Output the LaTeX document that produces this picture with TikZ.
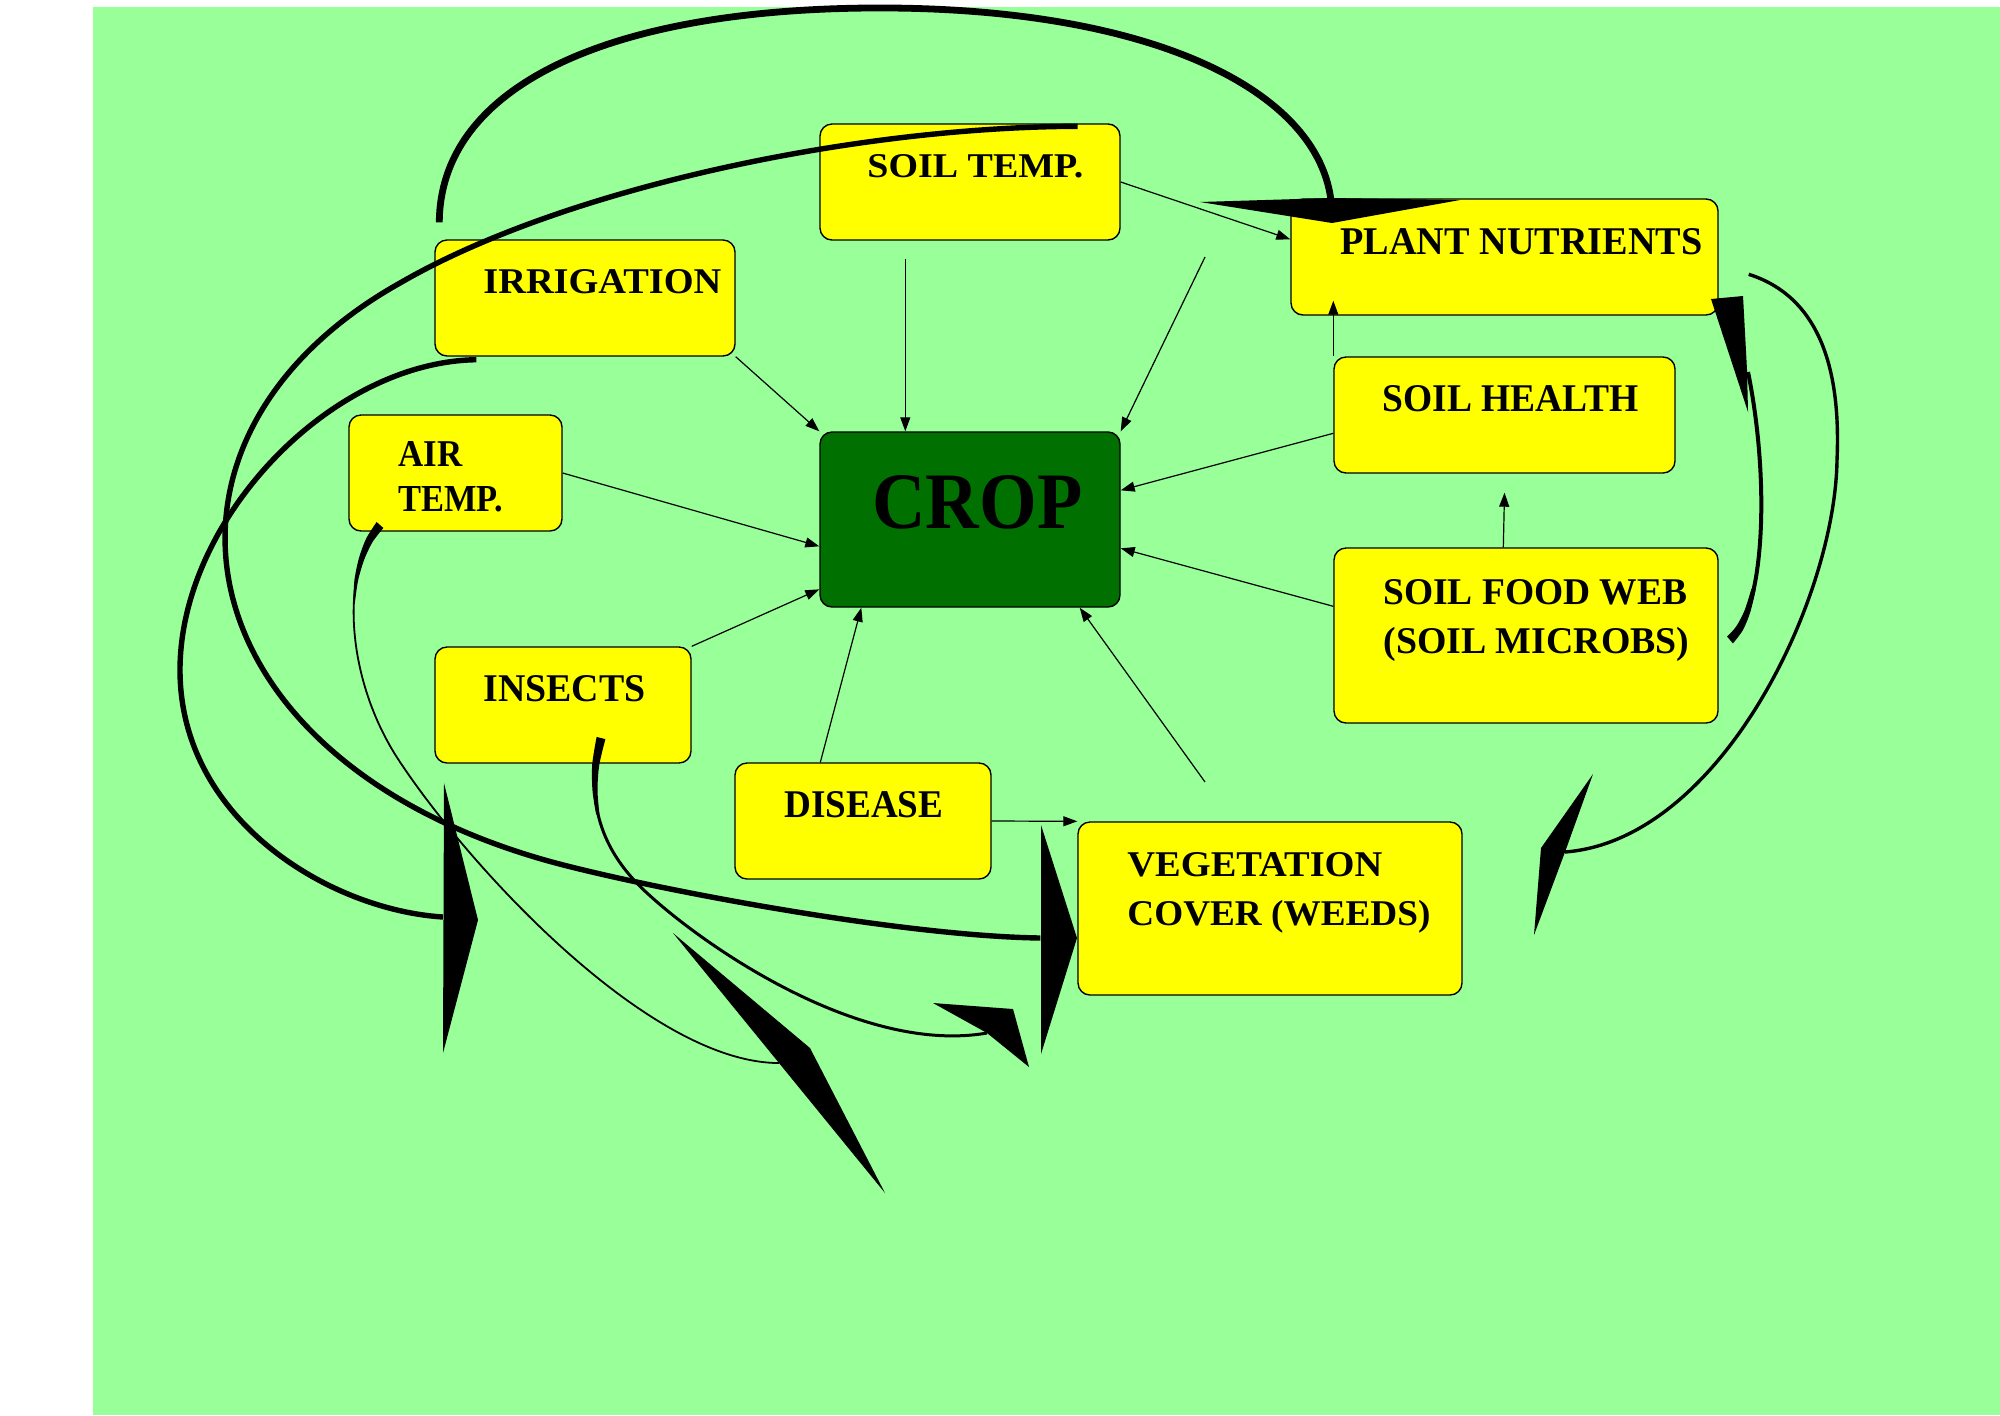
\documentclass[tikz,border=0pt]{standalone}
\usepackage{fontspec}
\setmainfont{Liberation Serif}
\usepackage{graphicx}
\usetikzlibrary{arrows.meta,calc}
\definecolor{bggreen}{RGB}{153,255,153}
\definecolor{boxyellow}{RGB}{255,255,0}
\definecolor{cropgreen}{RGB}{0,112,0}
\newcommand{\fitlabel}[3]{\resizebox{#1}{#2}{\bfseries #3}}
\begin{document}
\begin{tikzpicture}[x=0.5pt,y=-0.5pt,
  box/.style={draw=black, line width=0.7pt, rounded corners=6pt, fill=boxyellow, inner sep=0pt},
  lbl/.style={anchor=base west, inner sep=0pt, text=black},
  thinarrow/.style={draw=black, line width=0.6pt, -{Triangle[length=7pt,width=5pt]}},
  bigline/.style={draw=black, line cap=butt},
  head/.style={fill=black}]
% background
\fill[white] (0,0) rectangle (2000,1415);
\fill[bggreen] (93,7) rectangle (2000,1415);
\useasboundingbox (0,0) rectangle (2000,1415);

% boxes
\node[box, minimum width=150pt, minimum height=58pt] (soiltemp) at (970,182) {};
\node[box, minimum width=150pt, minimum height=58pt] (irr) at (585,298) {};
\node[box, minimum width=106.5pt, minimum height=58pt] (airtemp) at (455.5,473) {};
\node[box, minimum width=128pt, minimum height=58pt] (insects) at (563,705) {};
\node[box, minimum width=128pt, minimum height=58pt] (disease) at (863,821) {};
\node[box, minimum width=192pt, minimum height=86.5pt] (veg) at (1270,908.5) {};
\node[box, fill=cropgreen, minimum width=150pt, minimum height=87.5pt] (crop) at (970,519.5) {};
\node[box, minimum width=213.5pt, minimum height=58pt] (pn) at (1504.5,257) {};
\node[box, minimum width=170.5pt, minimum height=58pt] (soilhealth) at (1504.5,415) {};
\node[box, minimum width=192pt, minimum height=87.5pt] (sfw) at (1526,635.5) {};

% labels
\node[lbl] (tsoiltemp) at (867,177) {\fitlabel{108pt}{11.5pt}{SOIL TEMP.}};
\node[lbl] (tirr) at (483,293) {\fitlabel{119pt}{12pt}{IRRIGATION}};
\node[lbl] (tair1) at (398,466) {\fitlabel{32pt}{12.5pt}{AIR}};
\node[lbl] (tair2) at (398,511) {\fitlabel{52.5pt}{12.5pt}{TEMP.}};
\node[lbl] (tinsects) at (483,701) {\fitlabel{81pt}{13pt}{INSECTS}};
\node[lbl] (tdisease) at (784,817) {\fitlabel{79.5pt}{13pt}{DISEASE}};
\node[lbl] (tveg1) at (1127,876) {\fitlabel{127.5pt}{12pt}{VEGETATION}};
\node[lbl] (tveg2) at (1127,925) {\fitlabel{151.5pt}{12pt}{COVER \smash{(}WEEDS\smash{)}}};
\node[lbl] (tcrop) at (872,528) {\fitlabel{105pt}{26.5pt}{CROP}};
\node[lbl] (tpn) at (1340,254) {\fitlabel{181pt}{13pt}{PLANT NUTRIENTS}};
\node[lbl] (tsh) at (1382,411) {\fitlabel{128pt}{13pt}{SOIL HEALTH}};
\node[lbl] (tsfw1) at (1383,604) {\fitlabel{152pt}{12.5pt}{SOIL FOOD WEB}};
\node[lbl] (tsfw2) at (1383,653) {\fitlabel{153pt}{12.5pt}{\smash{(}SOIL MICROBS\smash{)}}};

% thin arrows
\coordinate (free1) at (1205,257);
\coordinate (free2) at (1205,782);
\draw[thinarrow] (irr.south east) -- (crop.north west);
\draw[thinarrow] ($(soiltemp.south west)+(86,18)$) -- ($(crop.north west)+(86,0)$);
\draw[thinarrow] (free1) -- (crop.north east);
\draw[thinarrow] (airtemp.east) -- ($(crop.north west)+(0,115)$);
\draw[thinarrow] (insects.north east) -- ($(crop.north west)+(0,158)$);
\draw[thinarrow] ($(disease.north west)+(86,0)$) -- ($(crop.south west)+(42,0)$);
\draw[thinarrow] (free2) -- ($(crop.south east)+(-41,0)$);
\draw[thinarrow] ($(soilhealth.north west)+(0,77)$) -- ($(crop.north east)+(0,59)$);
\draw[thinarrow] ($(sfw.north west)+(0,59)$) -- ($(crop.north east)+(0,117)$);
\draw[thinarrow] (soiltemp.east) -- ($(pn.north west)+(0,41)$);
\draw[thinarrow] (soilhealth.north west) -- ($(pn.south west)+(43,-15)$);
\draw[thinarrow] ($(sfw.north west)+(170,0)$) -- ($(soilhealth.south)+(0,19)$);
\draw[thinarrow] (disease.east) -- (veg.north west);

% curve end points
\coordinate (aS) at ($(irr.north west)+(5,-17)$);
\coordinate (aE) at ($(pn.north west)+(41,5)$);
\coordinate (bS) at ($(soiltemp.north east)+(-43,3)$);
\coordinate (bE) at ($(veg.west)+(-37,29.5)$);
\coordinate (cS) at ($(irr.south west)+(42,3)$);
\coordinate (cE) at (443,917);
\coordinate (dS) at ($(airtemp.south west)+(31,-6)$);
\coordinate (dE) at (779,1063);
\coordinate (eS) at ($(insects.south west)+(166,-25)$);
\coordinate (eE) at (987,1033);
\coordinate (fS) at ($(sfw.north east)+(12,92)$);
\coordinate (fE) at (1748,372);
\coordinate (gS) at ($(pn.north east)+(30,76)$);
\coordinate (gE) at (1565,852);

% curve A: irrigation -> plant nutrients (top arc)
\draw[bigline, line width=3.4pt] (aS) .. controls (440,90) and (600,10) .. (870,8)
  .. controls (1150,6) and (1320,90) .. (aE);
\fill[head] (1200,202) -- (1330,198) -- (1460,200) -- (1332,223) -- cycle;

% curve B: soil temp -> vegetation cover
\draw[bigline, line width=2.7pt] (bS) .. controls (850,127) and (560,190) .. (400,283)
  .. controls (120,440) and (180,760) .. (552,862)
  .. controls (652,889) and (900,936) .. (bE);
\fill[head] (1041,825) -- (1077,938) -- (1041,1054) -- cycle;

% curve C: irrigation -> left arrowhead
\draw[bigline, line width=2.7pt] (cS) .. controls (330,362) and (180,520) .. (180,670)
  .. controls (180,820) and (330,910) .. (cE);
\fill[head] (444,783) -- (478,920) -- (443,1053) -- cycle;

% curve D: air temp -> dart
\draw[bigline, line width=0.9pt] (dS) .. controls (340,570) and (345,680) .. (400,762)
  .. controls (471,869) and (650,1063) .. (dE);
\fill plot[smooth] coordinates {(383.4,528.0) (372.5,542.1) (364.1,559.9) (358.0,580.9) (354.7,604.2)}
  -- plot[smooth] coordinates {(353.3,604.2) (354.4,580.3) (358.9,558.3) (366.1,538.7) (376.6,522.0)} -- cycle;
\fill[head] (673,933) -- (810,1048) -- (885,1193) -- (779,1063) -- cycle;

% curve E: insects -> arrowhead
\draw[bigline, line width=1.5pt] (eS) .. controls (585,800) and (600,850) .. (647,893)
  .. controls (703,945) and (860,1055) .. (eE);
\fill plot[smooth] coordinates {(605.4,739.1) (599.2,765.3) (597.5,790.6) (599.4,813.7)}
  -- plot[smooth] coordinates {(596.2,814.5) (592.5,790.8) (592.2,764.5) (596.6,736.9)} -- cycle;
\fill[head] (933,1003) -- (1013,1009) -- (1029,1067) -- (987,1033) -- cycle;

% curve F: soil food web -> plant nutrients (inner right)
\draw[bigline, line width=2pt] (fS) .. controls (1765,610) and (1770,480) .. (fE);
\fill plot[smooth] coordinates {(1732.9,643.4) (1742.9,630.1) (1750.3,612) (1755.6,589.7)}
  -- plot[smooth] coordinates {(1751.4,588.7) (1744.7,610) (1736.3,626.3) (1727.1,636.6)} -- cycle;
\fill[head] (1711,299) -- (1743,296) -- (1747,370) -- (1748,412) -- cycle;

% curve G: plant nutrients -> lower right dart
\draw[bigline, line width=1.7pt] (gS) .. controls (1830,300) and (1840,390) .. (1837,460)
  .. controls (1835,600) and (1720,840) .. (gE);
\fill[head] (1593,774) -- (1541,848) -- (1534,935) -- (1565,852) -- cycle;
\end{tikzpicture}
\end{document}
